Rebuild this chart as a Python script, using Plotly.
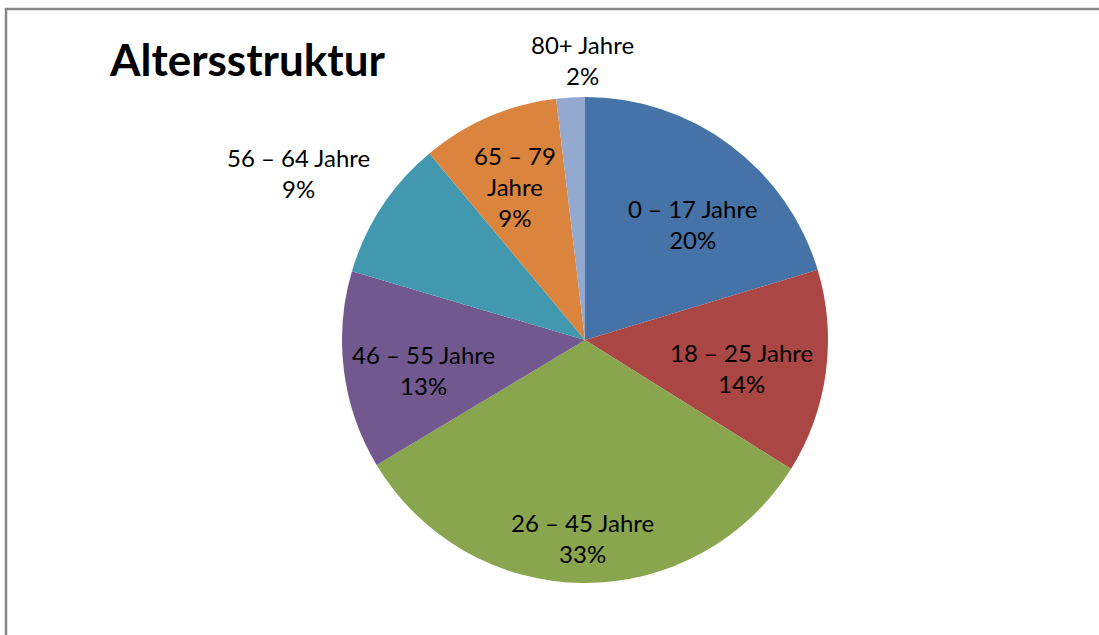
import math
import plotly.graph_objects as go

# ---- data ----
categories = ["0 – 17 Jahre", "18 – 25 Jahre", "26 – 45 Jahre", "46 – 55 Jahre",
              "56 – 64 Jahre", "65 – 79 Jahre", "80+ Jahre"]
values = [20.4, 13.6, 32.6, 13.2, 9.4, 9.2, 1.9]
colors = ["#4572A7", "#AA4643", "#89A54E", "#71588F", "#4198AF", "#DB843D", "#93A9CF"]
title_text = "Altersstruktur"

# ---- layout constants ----
W, H = 1099, 635
cx, cy, R = 585, 340, 243          # pie centre / radius in pixels
label_radius = [0.65, 0.656, 0.815, 0.675, 1.366, 0.695, 1.152]
label_nudge_deg = [6.1, 2.5, 0.1, -3.3, -3.1, -1.1, 2.8]
label_wrap = [False, False, False, False, False, True, False]
FONT = "Lato, Open Sans, sans-serif"

dom_x = [(cx - R) / W, (cx + R) / W]
dom_y = [(H - cy - R) / H, (H - cy + R) / H]

fig = go.Figure(go.Pie(
    labels=categories,
    values=values,
    sort=False,
    direction="clockwise",
    rotation=0,
    marker=dict(colors=colors, line=dict(width=0)),
    textinfo="none",
    hoverinfo="label+percent",
    domain=dict(x=dom_x, y=dom_y),
    showlegend=False,
))

total = sum(values)
cum = 0.0
annotations = []
for cat, v, rf, nd, wrap in zip(categories, values, label_radius, label_nudge_deg, label_wrap):
    mid = (cum + v / 2) / total * 2 * math.pi + math.radians(nd)
    cum += v
    px = cx + rf * R * math.sin(mid)
    py = cy - rf * R * math.cos(mid)
    pct = f"{round(v / total * 100):d}%"
    name = cat.replace(" Jahre", "<br>Jahre") if wrap else cat
    annotations.append(dict(
        x=px / W, y=(H - py) / H, xref="paper", yref="paper",
        text=f"{name}<br>{pct}", showarrow=False,
        font=dict(family=FONT, size=24, color="#000000"),
        xanchor="center", yanchor="middle", align="center",
    ))

annotations.append(dict(
    x=107 / W, y=(H - 59) / H, xref="paper", yref="paper",
    text=f"<b>{title_text}</b>", showarrow=False,
    font=dict(family=FONT, size=44, color="#000000"),
    xanchor="left", yanchor="middle",
))

fig.update_layout(
    width=W, height=H,
    margin=dict(l=0, r=0, t=0, b=0),
    paper_bgcolor="white",
    plot_bgcolor="white",
    annotations=annotations,
    shapes=[dict(type="rect", xref="paper", yref="paper",
                 x0=6 / W, x1=1.02, y0=-0.02, y1=(H - 9) / H,
                 line=dict(color="#888888", width=2.5), fillcolor="rgba(0,0,0,0)")],
)

fig.write_html("out.html", config={"displayModeBar": False},
               post_script="document.body.style.margin='0';")
